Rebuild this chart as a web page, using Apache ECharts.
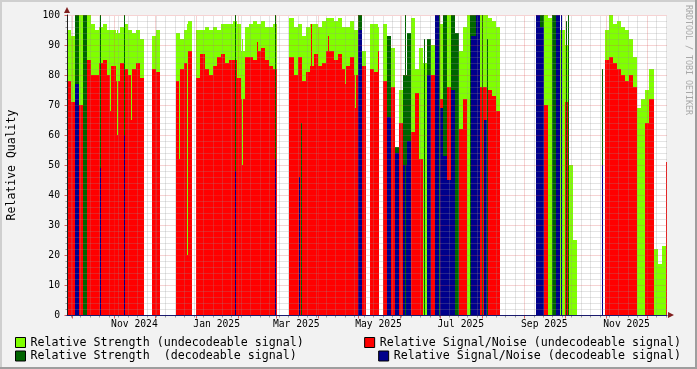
<!DOCTYPE html>
<html><head><meta charset="utf-8">
<script src="https://cdn.jsdelivr.net/npm/echarts@6/dist/echarts.min.js"></script>
<style>html,body{margin:0;padding:0;background:#f2f2f2}#c{width:697px;height:369px}</style>
</head><body><div id="c"></div>
<script>
// ---- time frame (3-day bins) ----
const START = Date.UTC(2024, 8, 27);
const DAY = 86400000;
const SPAN_DAYS = 445;
const END = START + SPAN_DAYS * DAY;
const BIN_DAYS = 3;

// ---- series values per 3-day bin (null = no data) ----
const strengthUndec = [95,93,null,100,null,100,97,95,96,97,95,95,94,96,97,95,94,95,92,null,
 null,93,95,null,null,null,null,94,92,95,98,null,95,95,96,95,96,95,97,97,
 97,98,97,88,96,97,98,97,98,96,96,97,null,null,null,99,96,97,93,96,
 97,97,96,98,99,99,98,99,96,96,98,95,null,88,null,97,97,null,97,null,
 89,null,75,null,null,99,82,89,84,null,90,null,97,null,100,null,null,88,96,100,
 null,null,100,100,99,98,96,null,null,null,null,null,null,null,null,null,null,null,100,99,
 null,null,95,90,50,25,null,null,null,null,null,null,null,95,100,97,98,96,95,92,
 86,69,72,75,82,22,17,23,27];
const snrUndec = [78,71,null,70,null,85,80,80,84,85,80,83,78,84,82,80,82,84,79,null,
 null,82,81,null,null,null,null,78,82,84,88,null,79,87,82,80,83,86,87,84,
 85,85,79,72,86,86,85,88,89,85,83,82,null,null,null,86,80,86,78,81,
 83,87,83,84,88,88,85,87,82,83,86,80,null,83,null,82,81,null,78,null,
 76,null,64,null,null,61,74,52,null,null,80,null,72,null,76,null,null,62,72,null,
 null,null,76,76,75,73,68,null,null,null,null,null,null,null,null,null,null,null,70,null,
 null,null,null,71,null,null,null,null,null,null,null,null,null,85,86,84,82,80,78,80,
 76,null,null,64,72,null,null,null,null];
const strengthDec = [null,null,100,null,100,null,null,null,null,null,null,null,null,null,null,null,null,null,null,null,
 null,null,null,null,null,null,null,null,null,null,null,null,null,null,null,null,null,null,null,null,
 null,null,null,null,null,null,null,null,null,null,null,null,null,null,null,null,null,null,null,null,
 null,null,null,null,null,null,null,null,null,null,null,null,100,null,null,null,null,null,null,93,
 null,56,null,80,94,null,null,null,null,92,null,100,null,100,null,100,94,null,null,null,
 100,100,null,null,null,null,null,null,null,null,null,null,null,null,null,null,100,100,null,null,
 100,100,null,null,null,null,null,null,null,null,null,null,null,null,null,null,null,null,null,null,
 null,null,null,null,null,null,null,null,null];
const snrDec = [null,null,77,null,null,null,null,null,null,null,null,null,null,null,null,null,null,null,null,null,
 null,null,null,null,null,null,null,null,null,null,null,null,null,null,null,null,null,null,null,null,
 null,null,null,null,null,null,null,null,null,null,null,null,null,null,null,null,null,null,null,null,
 null,null,null,null,null,null,null,null,null,null,null,null,95,null,null,null,null,null,null,66,
 null,54,null,50,58,null,null,null,null,80,null,100,69,53,45,75,null,null,null,null,
 93,100,null,65,null,null,null,null,null,null,null,null,null,null,null,null,100,96,null,null,
 null,100,null,null,null,null,null,null,null,null,null,null,null,null,null,null,null,null,null,null,
 null,null,null,null,null,null,null,null,null];

// single-sample spikes drawn as hairlines: [day offset from start, value]
const spikeStrengthUndec = [[31.9,95],[37.8,95],[48.2,95],[83.8,93],[89.7,97],[129.8,92],[206.9,96],[214.3,95],[230.8,96]];
const spikeSnrUndec = [[31.9,68],[37.8,60],[48.2,65],[83.8,52],[89.7,20],[129.8,50],[206.9,77],[214.3,69],
  [141.6,91],[181.0,97],[193.6,93],[230.8,88],[444.3,51]];
const spikeStrengthDec = [[0.4,100],[24.5,100],[43.0,100],[124.6,100],[154.3,100],[173.6,64],[251.4,100],
  [265.5,92],[276.6,100],[298.9,100],[307.8,100],[311.5,92],[370.1,98],[372.3,100],[397.5,82]];
const spikeSnrDec = [[24.5,49],[43.0,60],[124.6,48],[154.3,52],[172.8,46],[367.1,100],[397.5,50]];

// ---- axis labels ----
const xTickLabels = ['Nov 2024','Jan 2025','Mar 2025','May 2025','Jul 2025','Sep 2025','Nov 2025'];
const xTickDates = ['2024-11-16','2025-01-16','2025-03-16','2025-05-16','2025-07-16','2025-09-16','2025-11-16'];
const yTitle = 'Relative Quality';
const legendNames = ['Relative Strength (undecodeable signal)','Relative Signal/Noise (undecodeable signal)',
  'Relative Strength  (decodeable signal)','Relative Signal/Noise (decodeable signal)'];
const colors = ['#80ff00','#ff0000','#006400','#00008b'];

const binTime = i => START + (i * BIN_DAYS + BIN_DAYS / 2) * DAY;
const toPoints = arr => arr.map((v, i) => [binTime(i), v]).filter(p => p[1] != null);
const tickTimes = xTickDates.map(s => Date.parse(s + 'T00:00:00Z'));

// grid line times
const monthTimes = [], weekTimes = [];
for (let y = 2024, m = 9; ; m++) {
  if (m > 11) { m = 0; y++; }
  const t = Date.UTC(y, m, 1);
  if (t > END) break;
  if (t >= START) monthTimes.push(t);
}
{
  let t = START;
  while (new Date(t).getUTCDay() !== 1) t += DAY;
  for (; t <= END; t += 7 * DAY) weekTimes.push(t);
}

const FONT = '"DejaVu Sans Mono", monospace';

// column series: each value fills its 3-day bin from 0 up to the value
function columns(name, arr, color) {
  const half = BIN_DAYS / 2 * DAY;
  return { type: 'custom', name, data: toPoints(arr), clip: true, silent: true, z: 2,
    itemStyle: { color }, encode: { x: 0, y: 1 },
    renderItem(params, api) {
      const t = api.value(0), v = api.value(1);
      const a = api.coord([t - half, v]), b = api.coord([t + half, 0]);
      const x0 = Math.round(a[0]), x1 = Math.round(b[0]), y0 = Math.round(a[1]), y1 = Math.round(b[1]);
      return { type: 'rect', shape: { x: x0, y: y0, width: x1 - x0, height: y1 - y0 }, style: { fill: color } };
    } };
}
// hairline series: single-pixel columns
function hairlines(name, arr, color) {
  return { type: 'custom', name, data: arr.map(p => [START + p[0] * DAY, p[1]]), clip: true, silent: true, z: 3,
    itemStyle: { color }, encode: { x: 0, y: 1 },
    renderItem(params, api) {
      const a = api.coord([api.value(0), api.value(1)]), b = api.coord([api.value(0), 0]);
      const x0 = Math.floor(a[0]), y0 = Math.round(a[1]), y1 = Math.round(b[1]);
      return { type: 'rect', shape: { x: x0, y: y0, width: 1, height: y1 - y0 }, style: { fill: color } };
    } };
}

const gridSeries = {
  type: 'custom', name: 'gridlines', silent: true, clip: false, z: 5,
  data: [[START, 0]], encode: { x: 0, y: 1 },
  renderItem(params, api) {
    const ch = [];
    const X = t => Math.round(api.coord([t, 0])[0]) + 0.5;
    const Y = v => Math.round(api.coord([START, v])[1]) + 0.5;
    const yb = Y(0), yt = Y(100), xl = X(START), xr = X(END);
    const minor = 'rgba(150,150,150,0.5)', major = 'rgba(222,79,79,0.5)';
    const ln = (x1, y1, x2, y2, c, dash) => ({ type: 'line', shape: { x1, y1, x2, y2 },
      style: { stroke: c, lineWidth: 1, lineDash: dash ? [1, 1] : null } });
    const isMonth = t => monthTimes.indexOf(t) >= 0;
    for (let v = 2; v < 100; v += 2) if (v % 10) ch.push(ln(xl, Y(v), xr, Y(v), minor, true));
    weekTimes.forEach(t => { if (!isMonth(t)) ch.push(ln(X(t), yb, X(t), yt, minor, true)); });
    for (let v = 10; v <= 100; v += 10) ch.push(ln(xl, Y(v), xr, Y(v), major, true));
    monthTimes.forEach(t => ch.push(ln(X(t), yb, X(t), yt, major, true)));
    // ticks outside the plot
    weekTimes.forEach(t => { if (!isMonth(t)) ch.push(ln(X(t), yb, X(t), yb + 2, '#9a9a9a', false)); });
    monthTimes.forEach(t => ch.push(ln(X(t), yb, X(t), yb + 3, '#d86060', false)));
    for (let v = 0; v <= 100; v += 2) ch.push(ln(xl - (v % 10 ? 2 : 3), Y(v), xl, Y(v), v % 10 ? '#9a9a9a' : '#d86060', false));
    // month labels
    tickTimes.forEach((t, k) => ch.push({ type: 'text', x: api.coord([t, 0])[0], y: yb + 9,
      style: { text: xTickLabels[k], font: '9.7px ' + FONT, fill: '#000', align: 'center', verticalAlign: 'middle' } }));
    return { type: 'group', children: ch };
  }
};

const legendBase = { selectedMode: false, icon: 'rect', itemWidth: 10, itemHeight: 10,
  itemStyle: { borderColor: '#000', borderWidth: 1 },
  textStyle: { fontFamily: FONT, fontSize: 11.65, color: '#000' } };

const option = {
  backgroundColor: '#f2f2f2',
  animation: false,
  grid: { left: 67, top: 15, width: 600, height: 300, show: true, backgroundColor: '#ffffff', borderWidth: 0,
    containLabel: false, outerBoundsMode: 'none' },
  xAxis: {
    type: 'value', min: START, max: END, z: 30, scale: true,
    axisLine: { show: true, lineStyle: { color: '#1a1a6e', width: 1 } },
    axisTick: { show: false }, splitLine: { show: false }, axisLabel: { show: false }
  },
  yAxis: {
    type: 'value', min: 0, max: 100, interval: 10, z: 30,
    axisLine: { show: true, lineStyle: { color: '#1f1f1f', width: 1 } },
    axisTick: { show: false }, splitLine: { show: false },
    axisLabel: { margin: 7, fontFamily: FONT, fontSize: 9.7, color: '#000' }
  },
  legend: [
    Object.assign({ data: [legendNames[0]], left: 10, top: 331.5 }, legendBase),
    Object.assign({ data: [legendNames[2]], left: 10, top: 345 }, legendBase),
    Object.assign({ data: [legendNames[1]], right: 11, top: 331.5 }, legendBase),
    Object.assign({ data: [legendNames[3]], right: 11, top: 345 }, legendBase)
  ],
  series: [
    columns(legendNames[0], strengthUndec, colors[0]),
    columns(legendNames[1], snrUndec, colors[1]),
    columns(legendNames[2], strengthDec, colors[2]),
    columns(legendNames[3], snrDec, colors[3]),
    hairlines('spikeStrengthUndec', spikeStrengthUndec, colors[0]),
    hairlines('spikeSnrUndec', spikeSnrUndec, colors[1]),
    hairlines('spikeStrengthDec', spikeStrengthDec, colors[2]),
    hairlines('spikeSnrDec', spikeSnrDec, colors[3]),
    gridSeries
  ],
  graphic: [
    { type: 'rect', shape: { x: 0, y: 0, width: 697, height: 2 }, style: { fill: '#cfcfcf' }, silent: true },
    { type: 'rect', shape: { x: 0, y: 0, width: 2, height: 369 }, style: { fill: '#cfcfcf' }, silent: true },
    { type: 'rect', shape: { x: 0, y: 367, width: 697, height: 2 }, style: { fill: '#9e9e9e' }, silent: true },
    { type: 'rect', shape: { x: 695, y: 0, width: 2, height: 369 }, style: { fill: '#9e9e9e' }, silent: true },
    { type: 'polygon', shape: { points: [[64, 13], [70, 13], [67, 7]] }, style: { fill: '#801f1f' }, silent: true, z: 40 },
    { type: 'polygon', shape: { points: [[668, 312], [668, 318], [674, 315]] }, style: { fill: '#801f1f' }, silent: true, z: 40 },
    { type: 'text', x: 12, y: 165, rotation: Math.PI / 2, silent: true,
      style: { text: yTitle, font: '11.5px ' + FONT, fill: '#000', align: 'center', verticalAlign: 'middle' } },
    { type: 'text', x: 688, y: 5, rotation: -Math.PI / 2, silent: true,
      style: { text: 'RRDTOOL / TOBI OETIKER', font: '8.3px ' + FONT, fill: '#a8a8a8', align: 'left', verticalAlign: 'middle' } }
  ]
};
const chart = echarts.init(document.getElementById('c'), null, { width: 697, height: 369 });
chart.setOption(option);
</script></body></html>
